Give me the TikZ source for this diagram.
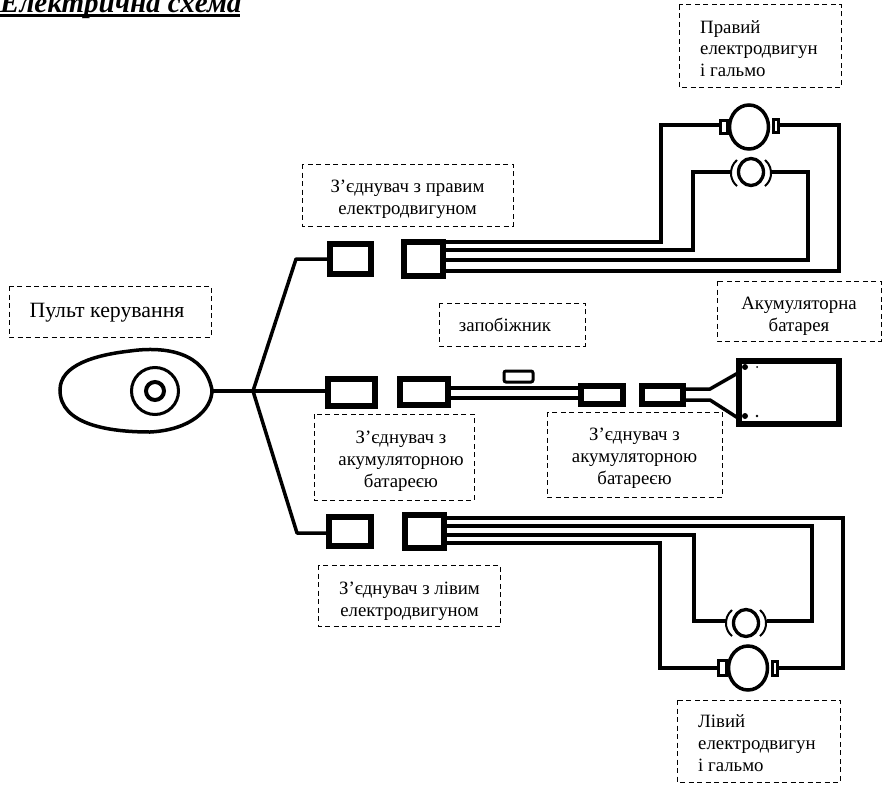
\documentclass[tikz,border=0pt]{standalone}
\usetikzlibrary{shapes.geometric}
\usepackage{fontspec}
\setmainfont{Liberation Serif}
\begin{document}
\begin{tikzpicture}[x=1pt,y=-1pt,
  wire/.style={line width=3.5pt,line join=miter},
  label/.style={font=\fontsize{18.8pt}{21.8pt}\selectfont,align=center,inner sep=0pt},
  dbox/.style={draw,line width=1pt,dash pattern=on 5pt off 3.5pt},
  motor/.style={draw,ellipse,line width=3.5pt,minimum width=39pt,minimum height=44pt,inner sep=0pt},
  brake/.style={draw,ellipse,line width=3.3pt,minimum width=25pt,minimum height=27pt,inner sep=0pt},
  conbox/.style={draw,inner sep=0pt}]
\useasboundingbox (0,0) rectangle (883,784);
% title
\node[anchor=base west,inner sep=0pt,font=\fontsize{29pt}{29pt}\selectfont\bfseries\itshape] (title) at (0,13) {Електрична схема};
\draw[line width=3pt] (0,16) -- (240,16);
% dashed boxes
\draw[dbox] (679,5) rectangle (841,87);
\draw[dbox] (302,164) rectangle (513,226);
\draw[dbox] (9,286) rectangle (211,337);
\draw[dbox] (439,303) rectangle (585,346);
\draw[dbox] (717,281) rectangle (881,341);
\draw[dbox] (314,414) rectangle (474,500);
\draw[dbox] (547,412) rectangle (722,497);
\draw[dbox] (318,565) rectangle (500,626);
\draw[dbox] (677,700) rectangle (840,782);
% labels
\node[label,anchor=north west,align=left] (lr) at (700,20) {Правий\\електродвигун\\і гальмо};
\node[label] (lcr) at (407.5,199) {З’єднувач з правим\\електродвигуном};
\node[label,font=\fontsize{21.8pt}{24pt}\selectfont] (lp) at (107,313) {Пульт керування};
\node[label] (lf) at (505,325) {запобіжник};
\node[label] (lb) at (799,316) {Акумуляторна\\батарея};
\node[label] (lc1) at (401,461) {З’єднувач з\\акумуляторною\\батареєю};
\node[label] (lc2) at (634.5,458) {З’єднувач з\\акумуляторною\\батареєю};
\node[label] (lcl) at (409.5,601) {З’єднувач з лівим\\електродвигуном};
\node[label,anchor=north west,align=left] (ll) at (698,714.5) {Лівий\\електродвигун\\і гальмо};
% remote
\draw[line width=3.5pt] (60,390) .. controls (60,365) and (95,355) .. (130,351)
  .. controls (165,346) and (205,352) .. (212,390)
  .. controls (212,410) and (190,430) .. (150,432)
  .. controls (110,432) and (60,425) .. (60,390) -- cycle;
\node[draw,circle,line width=3pt,minimum size=47pt,inner sep=0pt] (knob) at (155,391) {};
\node[draw,circle,line width=4pt,minimum size=18pt,inner sep=0pt] (knobin) at (155,391) {};
% connectors
\node[conbox,line width=6pt,minimum width=41pt,minimum height=30pt] (a1) at (350.5,259) {};
\node[conbox,line width=6pt,minimum width=39pt,minimum height=34pt] (a2) at (423.5,259) {};
\node[conbox,line width=5.5pt,minimum width=47pt,minimum height=27pt] (b1) at (351.5,392.5) {};
\node[conbox,line width=5.5pt,minimum width=48pt,minimum height=26pt] (b2) at (424,392) {};
\node[conbox,line width=6pt,minimum width=42pt,minimum height=18pt] (b3) at (602,395) {};
\node[conbox,line width=6pt,minimum width=41pt,minimum height=18pt] (b4) at (662.5,395) {};
\node[conbox,line width=6pt,minimum width=42pt,minimum height=29pt] (c1) at (350,531.5) {};
\node[conbox,line width=6pt,minimum width=39pt,minimum height=33pt] (c2) at (424.5,531.5) {};
% battery
\node[conbox,line width=6.5pt,minimum width=100pt,minimum height=63pt] (bat) at (789,392.5) {};
\coordinate (tp) at (745,367);
\coordinate (tn) at (745,416);
\fill (tp) circle (3pt);
\fill (tn) circle (3pt);
\fill (757,367) circle (1pt);
\fill (757,416) circle (1.3pt);
% fuse
\node[draw,rounded corners=2pt,line width=3pt,minimum width=29pt,minimum height=11pt,inner sep=0pt] (fuse) at (518.5,376.5) {};
% hub
\coordinate (hub) at (253,391);
\coordinate (up) at (296,259);
\coordinate (dn) at (297,533);
\draw[wire] (212,391) -- (hub) -- (b1.west |- hub);
\draw[wire,line join=bevel] (a1.west) -- (up) -- (hub) -- (dn) -- (c1.west |- dn);
% middle wires
\draw[wire] (b2.east |- 0,388) -- (b3.west |- 0,388);
\draw[wire] (b2.east |- 0,398) -- (b3.west |- 0,398);
\draw[wire] (b4.east |- 0,389) -- (710,389) -- (738,373);
\draw[wire] (b4.east |- 0,400) -- (710,400) -- (738,418);
% right motor
\node[motor] (m1) at (749,127) {};
\draw[line width=3pt] (720.5,120.5) rectangle (727,133);
\draw[line width=3pt] (773.5,119.5) rectangle (778,132);
\node[brake] (br1) at (751,172) {};
\draw[line width=2pt] (737,160) arc[start angle=130,end angle=230,radius=17pt];
\draw[line width=2pt] (765,160) arc[start angle=50,end angle=-50,radius=17pt];
\draw[wire] (a2.east |- 0,242) -- (661,242) -- (661,125) -- (719,125);
\draw[wire] (779,125) -- (839,125) -- (839,271) -- (a2.east |- 0,271);
\draw[wire] (a2.east |- 0,250) -- (693,250) -- (693,172) -- (731,172);
\draw[wire] (771,172) -- (808,172) -- (808,260) -- (a2.east |- 0,260);
% left motor
\node[motor] (m2) at (748,668) {};
\draw[line width=3pt] (718.5,660) rectangle (726,675.5);
\draw[line width=3pt] (772,661) rectangle (777.5,675.5);
\node[brake] (br2) at (746,623) {};
\draw[line width=2pt] (732,610) arc[start angle=130,end angle=230,radius=17pt];
\draw[line width=2pt] (760,610) arc[start angle=50,end angle=-50,radius=17pt];
\draw[wire] (c2.east |- 0,518) -- (843,518) -- (843,668) -- (778,668);
\draw[wire] (c2.east |- 0,526) -- (812,526) -- (812,621) -- (767,621);
\draw[wire] (c2.east |- 0,535) -- (694,535) -- (694,621) -- (727,621);
\draw[wire] (c2.east |- 0,543) -- (660,543) -- (660,668) -- (719,668);
\end{tikzpicture}
\end{document}
